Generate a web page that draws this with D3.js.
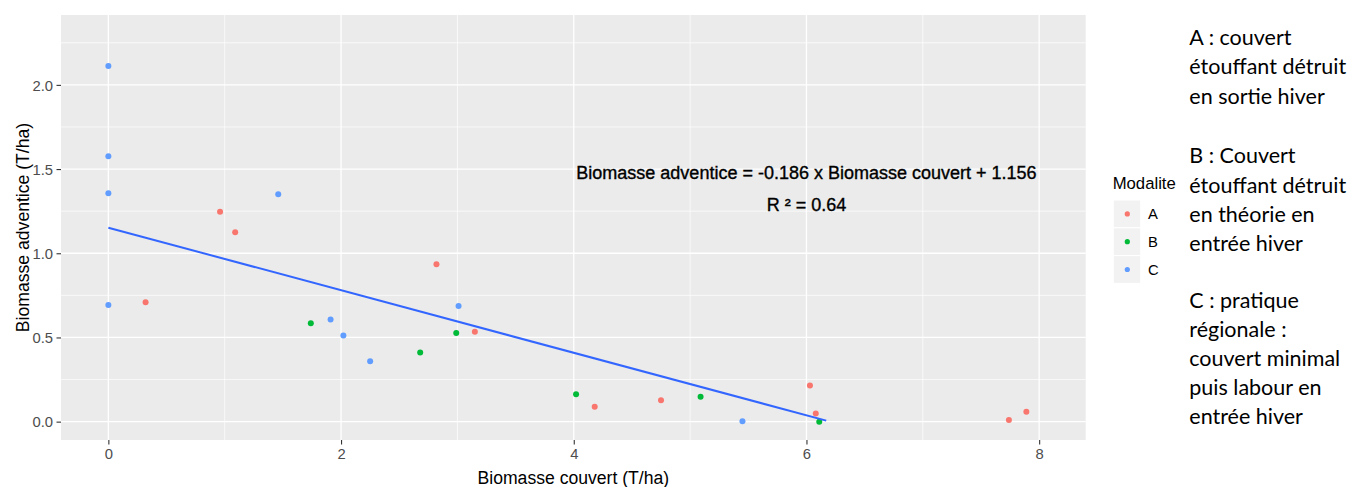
<!DOCTYPE html>
<html><head><meta charset="utf-8">
<script src="https://cdn.jsdelivr.net/npm/d3@7"></script>
<style>
html,body{margin:0;padding:0;background:#fff;}
svg{display:block;}
</style></head>
<body>
<svg id="chart" width="1368" height="487"></svg>
<script>
// ---- data ----
const modalites = ["A", "B", "C"];
const colors = ["#F8766D", "#00BA38", "#619CFF"];
const ptsA_x = [0.96, 1.09, 0.32, 2.82, 3.15, 4.18, 4.75, 6.03, 6.08, 7.74, 7.89];
const ptsA_y = [1.247, 1.125, 0.709, 0.935, 0.534, 0.089, 0.127, 0.214, 0.048, 0.010, 0.059];
const ptsB_x = [1.74, 2.68, 2.99, 4.02, 5.09, 6.11];
const ptsB_y = [0.584, 0.410, 0.527, 0.163, 0.148, 0.000];
const ptsC_x = [0, 0, 0, 1.46, 0, 1.91, 2.02, 2.25, 3.01, 5.45];
const ptsC_y = [2.112, 1.576, 1.356, 1.350, 0.693, 0.606, 0.511, 0.359, 0.687, 0.002];
const fitX = [0, 6.17];
const fitY = [1.152, 0.006];
const xTicks = [0, 2, 4, 6, 8];
const xMinor = [1, 3, 5, 7];
const yTicks = [0, 0.5, 1.0, 1.5, 2.0];
const yMinor = [0.25, 0.75, 1.25, 1.75, 2.25];
const eqLine1 = "Biomasse adventice = -0.186 x Biomasse couvert + 1.156";
const eqLine2 = "R \u00b2 = 0.64";
const xTitle = "Biomasse couvert (T/ha)";
const yTitle = "Biomasse adventice (T/ha)";
const legendTitle = "Modalite";
const sideText = [
  "A : couvert", "étouffant détruit", "en sortie hiver", "",
  "B : Couvert", "étouffant détruit", "en théorie en", "entrée hiver", "",
  "C : pratique", "régionale :", "couvert minimal", "puis labour en", "entrée hiver"
];
const sideBaselines = [45, 74.3, 103.5, null, 163.3, 192.6, 221.8, 250.5, null, 308.3, 337, 366.3, 395.3, 424];

// ---- layout ----
const svg = d3.select("#chart");
const P = {l: 61, r: 1085.7, t: 15, b: 440};
const x = d3.scaleLinear().domain([-0.407, 8.40]).range([P.l, P.r]);
const y = d3.scaleLinear().domain([-0.109, 2.415]).range([P.b, P.t]);
const color = d3.scaleOrdinal().domain(modalites).range(colors);
const font = "'Liberation Sans', Arial, sans-serif";

svg.append("rect").attr("x", P.l).attr("y", P.t).attr("width", P.r - P.l).attr("height", P.b - P.t).attr("fill", "#EBEBEB");
const grid = svg.append("g");
grid.selectAll(".xm").data(xMinor).enter().append("line")
  .attr("x1", d => x(d)).attr("x2", d => x(d)).attr("y1", P.t).attr("y2", P.b)
  .attr("stroke", "#fff").attr("stroke-width", 0.7);
grid.selectAll(".ym").data(yMinor).enter().append("line")
  .attr("y1", d => y(d)).attr("y2", d => y(d)).attr("x1", P.l).attr("x2", P.r)
  .attr("stroke", "#fff").attr("stroke-width", 0.7);
grid.selectAll(".xM").data(xTicks).enter().append("line")
  .attr("x1", d => x(d)).attr("x2", d => x(d)).attr("y1", P.t).attr("y2", P.b)
  .attr("stroke", "#fff").attr("stroke-width", 1.3);
grid.selectAll(".yM").data(yTicks).enter().append("line")
  .attr("y1", d => y(d)).attr("y2", d => y(d)).attr("x1", P.l).attr("x2", P.r)
  .attr("stroke", "#fff").attr("stroke-width", 1.3);

// axes
const xAxis = svg.append("g").attr("transform", `translate(0,${P.b})`)
  .call(d3.axisBottom(x).tickValues(xTicks).tickFormat(d3.format("d")).tickSize(4.5).tickPadding(3));
const yAxis = svg.append("g").attr("transform", `translate(${P.l},0)`)
  .call(d3.axisLeft(y).tickValues(yTicks).tickFormat(d3.format(".1f")).tickSize(4.5).tickPadding(3.5));
[xAxis, yAxis].forEach(a => {
  a.select(".domain").remove();
  a.selectAll(".tick line").attr("stroke", "#333333").attr("stroke-width", 1.1);
  a.selectAll(".tick text").attr("fill", "#4D4D4D").style("font-family", font).style("font-size", "14.8px");
});
xAxis.selectAll(".tick text").attr("dy", "0.71em").attr("y", 8.5);
yAxis.selectAll(".tick text").attr("dy", "0.36em");

// points
const pts = [];
[[ptsA_x, ptsA_y, "A"], [ptsB_x, ptsB_y, "B"], [ptsC_x, ptsC_y, "C"]].forEach(([xs, ys, m]) => {
  xs.forEach((v, i) => pts.push({x: v, y: ys[i], m}));
});
svg.append("g").selectAll("circle").data(pts).enter().append("circle")
  .attr("cx", d => x(d.x)).attr("cy", d => y(d.y)).attr("r", 3)
  .attr("fill", d => color(d.m));

// fit line
svg.append("path").datum(fitX.map((v, i) => [v, fitY[i]]))
  .attr("d", d3.line().x(d => x(d[0])).y(d => y(d[1])))
  .attr("fill", "none").attr("stroke", "#3366FF").attr("stroke-width", 2);

// annotation
svg.append("text").attr("x", x(6)).attr("y", 178.5).attr("text-anchor", "middle")
  .style("font-family", font).style("font-size", "18px").attr("fill", "#000")
  .attr("stroke", "#000").attr("stroke-width", 0.35).text(eqLine1);
svg.append("text").attr("x", x(6)).attr("y", 210.7).attr("text-anchor", "middle")
  .style("font-family", font).style("font-size", "18px").attr("fill", "#000")
  .attr("stroke", "#000").attr("stroke-width", 0.35).text(eqLine2);

// axis titles
svg.append("text").attr("x", (P.l + P.r) / 2).attr("y", 484.3).attr("text-anchor", "middle")
  .style("font-family", font).style("font-size", "17.6px").attr("fill", "#000").text(xTitle);
svg.append("text").attr("transform", `translate(29.3,${(P.t + P.b) / 2}) rotate(-90)`).attr("text-anchor", "middle")
  .style("font-family", font).style("font-size", "17.6px").attr("fill", "#000").text(yTitle);

// legend
const lg = svg.append("g");
lg.append("text").attr("x", 1112.7).attr("y", 188.5).style("font-family", font).style("font-size", "16.7px")
  .attr("fill", "#000").text(legendTitle);
const keyY0 = 200, keyH = 27.8;
modalites.forEach((m, i) => {
  const ky = keyY0 + i * keyH;
  lg.append("rect").attr("x", 1113.3).attr("y", ky).attr("width", 27.4).attr("height", keyH)
    .attr("fill", "#F2F2F2").attr("stroke", "#fff").attr("stroke-width", 1);
  lg.append("circle").attr("cx", 1127.3).attr("cy", ky + keyH / 2).attr("r", 2.6).attr("fill", color(m));
  lg.append("text").attr("x", 1148).attr("y", ky + keyH / 2).attr("dy", "0.36em")
    .style("font-family", font).style("font-size", "14.8px").attr("fill", "#000").text(m);
});

// side text
const st = svg.append("g");
sideText.forEach((t, i) => {
  if (!t) return;
  st.append("text").attr("x", 1189.3).attr("y", sideBaselines[i])
    .style("font-family", "Lato, 'Open Sans', sans-serif").style("font-size", "21.5px")
    .attr("fill", "#000").text(t);
});
</script>
</body></html>
